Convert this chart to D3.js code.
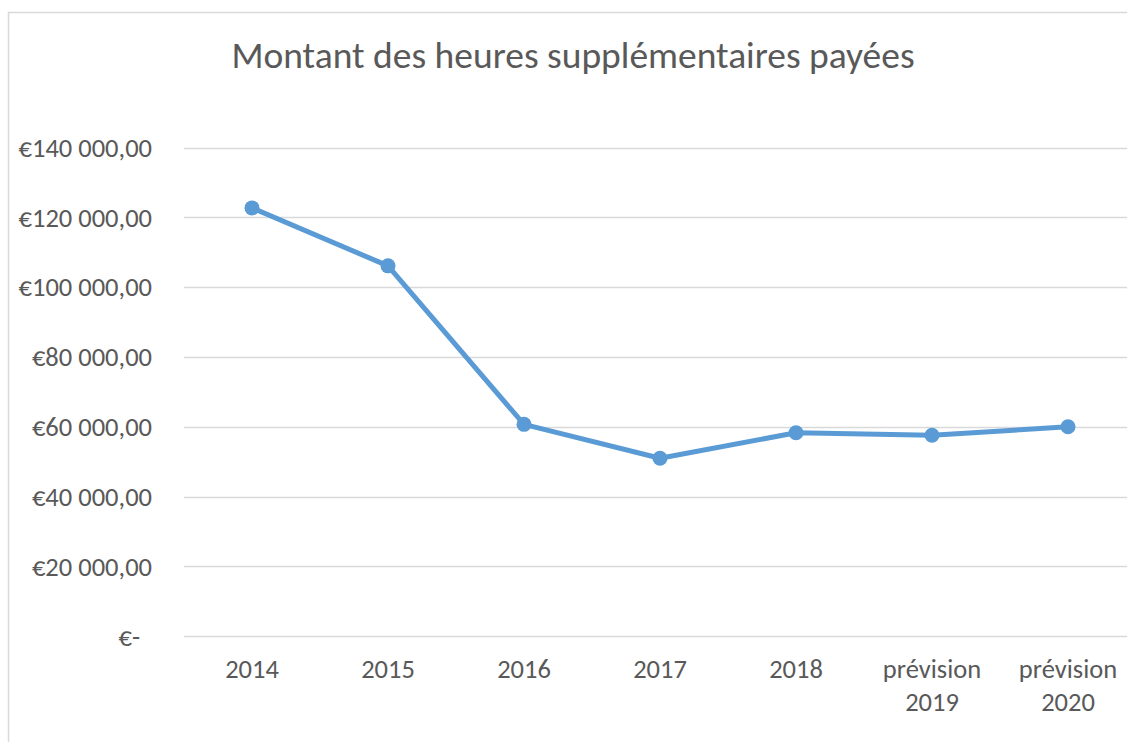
<!DOCTYPE html>
<html>
<head>
<meta charset="utf-8">
<script src="https://cdn.jsdelivr.net/npm/d3@7"></script>
<style>
  body { margin: 0; background: #fff; }
  svg { display: block; font-family: Carlito, Calibri, Lato, sans-serif; }
</style>
</head>
<body>
<svg id="chart" width="1127" height="742"></svg>
<script>
const categories = [["2014"], ["2015"], ["2016"], ["2017"], ["2018"], ["prévision", "2019"], ["prévision", "2020"]];
const amounts = [122700, 106100, 60700, 51000, 58300, 57600, 60000];
const yTicks = [0, 20000, 40000, 60000, 80000, 100000, 120000, 140000];

const width = 1127;
const height = 742;

const svg = d3.select("#chart");

// chart frame (cut off at right and bottom like the screenshot)
svg.append("rect")
    .attr("x", 8.5).attr("y", 12.5)
    .attr("width", 1140).attr("height", 760)
    .attr("fill", "#fff")
    .attr("stroke", "#d9d9d9")
    .attr("stroke-width", 1.5);

const keys = categories.map(c => c.join(" "));
const x = d3.scalePoint()
    .domain(keys)
    .range([184, 1136])
    .padding(0.5);

const y = d3.scaleLinear()
    .domain([0, 140000])
    .range([636.3, 147.5]);

const fmt = v => v === 0 ? "€-" : "€" + d3.format(",.2f")(v).replace(/,/g, " ").replace(".", ",");

// gridlines
svg.append("g")
    .selectAll("line")
    .data(yTicks)
    .enter().append("line")
    .attr("x1", 184).attr("x2", width)
    .attr("y1", d => Math.round(y(d)) + 0.5)
    .attr("y2", d => Math.round(y(d)) + 0.5)
    .attr("stroke", "#d9d9d9")
    .attr("stroke-width", 1.5);

// y labels
svg.append("g")
    .selectAll("text")
    .data(yTicks)
    .enter().append("text")
    .attr("x", d => d === 0 ? 140 : 152)
    .attr("y", d => y(d))
    .attr("dy", "0.35em")
    .attr("text-anchor", "end")
    .attr("fill", "#595959")
    .style("font-size", "26.5px")
    .text(fmt);

// x labels
const xl = svg.append("g")
    .selectAll("text")
    .data(categories)
    .enter().append("text")
    .attr("text-anchor", "middle")
    .attr("fill", "#595959")
    .style("font-size", "26.5px");

xl.selectAll("tspan")
    .data(d => d.map((t, i) => ({ t, i, x: x(d.join(" ")) })))
    .enter().append("tspan")
    .attr("x", d => d.x)
    .attr("y", d => 678 + d.i * 33)
    .text(d => d.t);

// line
const line = d3.line()
    .x((d, i) => x(keys[i]))
    .y(d => y(d));

svg.append("path")
    .datum(amounts)
    .attr("d", line)
    .attr("fill", "none")
    .attr("stroke", "#5b9bd5")
    .attr("stroke-width", 5)
    .attr("stroke-linejoin", "round");

svg.append("g")
    .selectAll("circle")
    .data(amounts)
    .enter().append("circle")
    .attr("cx", (d, i) => x(keys[i]))
    .attr("cy", d => y(d))
    .attr("r", 7.5)
    .attr("fill", "#5b9bd5");

// title
svg.append("text")
    .attr("x", 573)
    .attr("y", 68)
    .attr("text-anchor", "middle")
    .attr("fill", "#595959")
    .style("font-size", "37.5px")
    .text("Montant des heures supplémentaires payées");
</script>
</body>
</html>
